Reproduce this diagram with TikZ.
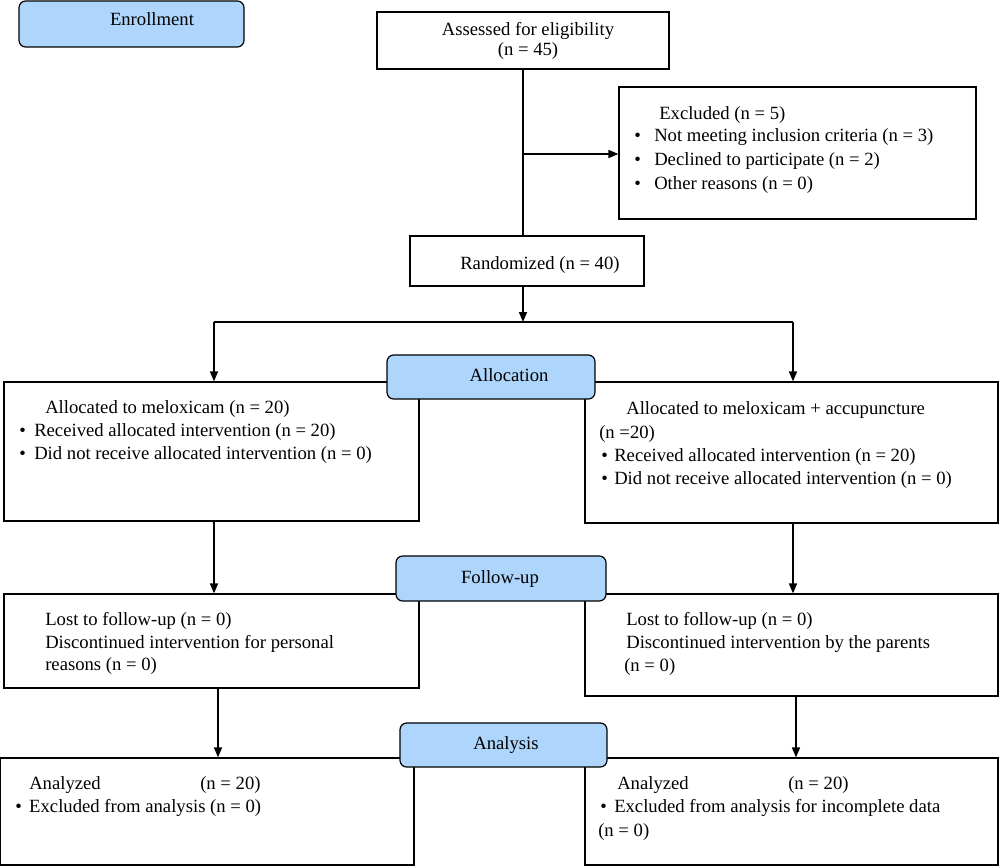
\documentclass[tikz,border=0pt]{standalone}
\usepackage{fontspec}
\setmainfont{Liberation Serif}
\usetikzlibrary{fit,arrows.meta}
\definecolor{hdrblue}{RGB}{174,214,252}
\newcommand{\bul}[1]{\makebox[#1][l]{•}}
\tikzset{
  box/.style={draw=black, line width=0.9pt, fill=white, inner sep=0pt},
  hdr/.style={draw=black, line width=0.9pt, fill=hdrblue, rounded corners=5pt, inner sep=0pt},
  txt/.style={anchor=base west, inner sep=0pt, font=\fontsize{14}{17}\selectfont},
  ctxt/.style={anchor=base, inner sep=0pt, font=\fontsize{14}{17}\selectfont},
  line/.style={line width=1.2pt},
  arr/.style={line width=1.2pt, -{Triangle[length=7.5pt,width=6pt]}},
}
\begin{document}
\begin{tikzpicture}[x=0.75pt,y=-0.75pt]
\useasboundingbox (0,0) rectangle (1000,867);
% boxes
\node[box, fit={(377,12) (669,69)}] (assess) {};
\node[box, fit={(619,87) (976,219)}] (excl) {};
\node[box, fit={(410,236) (644,286)}] (rand) {};
\node[box, fit={(4,382) (419,521)}] (allocL) {};
\node[box, fit={(585,382) (998,523)}] (allocR) {};
\node[box, fit={(4,594) (419,688)}] (fuL) {};
\node[box, fit={(585,594) (998,696)}] (fuR) {};
\node[box, fit={(0,758) (414,865)}] (anL) {};
\node[box, fit={(585,758) (998,865)}] (anR) {};
% header boxes
\node[hdr, fit={(19,1) (244,47)}] (henr) {};
\node[hdr, fit={(387,355) (595,399)}] (halloc) {};
\node[hdr, fit={(396,556) (606,601)}] (hfu) {};
\node[hdr, fit={(400,723) (607,767)}] (han) {};
% header texts
\node[ctxt] (tenr) at (152,26) {Enrollment};
\node[ctxt] (talloc) at (509,381) {Allocation};
\node[ctxt] (tfu) at (500,583) {Follow-up};
\node[ctxt] (tan) at (506,749) {Analysis};
% connectors
\coordinate (j1) at (523,154);
\coordinate (sp) at (523,322);
\coordinate (sl) at (214,322);
\coordinate (sr) at (793,322);
\draw[line] (assess.south) -- (assess.south |- rand.north);
\draw[arr] (j1) -- (j1 -| excl.west);
\draw[arr] (assess.south |- rand.south) -- (sp);
\draw[line] (sl) -- (sr);
\draw[arr] (sl) -- (sl |- allocL.north);
\draw[arr] (sr) -- (sr |- allocR.north);
\draw[arr] (allocL.south -| sl) -- (sl |- fuL.north);
\draw[arr] (allocR.south -| sr) -- (sr |- fuR.north);
\coordinate (al) at (218,688);
\coordinate (ar) at (796,696);
\draw[arr] (al) -- (al |- anL.north);
\draw[arr] (ar) -- (ar |- anR.north);
% texts
\node[ctxt] (t1) at (528,36) {Assessed for eligibility};
\node[ctxt] (t2) at (528,56) {(n = 45)};
\node[txt] (t3) at (659,119) {Excluded (n = 5)};
\node[txt] (t4) at (634,142) {\bul{15pt}Not meeting inclusion criteria (n = 3)};
\node[txt] (t5) at (634,165) {\bul{15pt}Declined to participate (n = 2)};
\node[txt] (t6) at (634,189) {\bul{15pt}Other reasons (n = 0)};
\node[txt] (t7) at (460,269) {Randomized (n = 40)};
\node[txt] (t8) at (45,413) {Allocated to meloxicam (n = 20)};
\node[txt] (t9) at (19,436) {\bul{11.25pt}Received allocated intervention (n = 20)};
\node[txt] (t10) at (19,459) {\bul{11.25pt}Did not receive allocated intervention (n = 0)};
\node[txt] (t11) at (626,414) {Allocated to meloxicam + accupuncture};
\node[txt] (t12) at (599,438) {(n =20)};
\node[txt] (t13) at (601,461) {\bul{9.75pt}Received allocated intervention (n = 20)};
\node[txt] (t14) at (601,484) {\bul{9.75pt}Did not receive allocated intervention (n = 0)};
\node[txt] (t15) at (45,625) {Lost to follow-up (n = 0)};
\node[txt] (t16) at (45,648) {Discontinued intervention for personal};
\node[txt] (t17) at (45,670) {reasons (n = 0)};
\node[txt] (t18) at (626,625) {Lost to follow-up (n = 0)};
\node[txt] (t19) at (626,648) {Discontinued intervention by the parents};
\node[txt] (t20) at (624,671) {(n = 0)};
\node[txt] (t21) at (29,789) {Analyzed};
\node[txt] (t22) at (200,789) {(n = 20)};
\node[txt] (t23) at (15,812) {\bul{10.5pt}Excluded from analysis (n = 0)};
\node[txt] (t24) at (617,789) {Analyzed};
\node[txt] (t25) at (788,789) {(n = 20)};
\node[txt] (t26) at (600,812) {\bul{10.5pt}Excluded from analysis for incomplete data};
\node[txt] (t27) at (598,836) {(n = 0)};
\end{tikzpicture}
\end{document}
